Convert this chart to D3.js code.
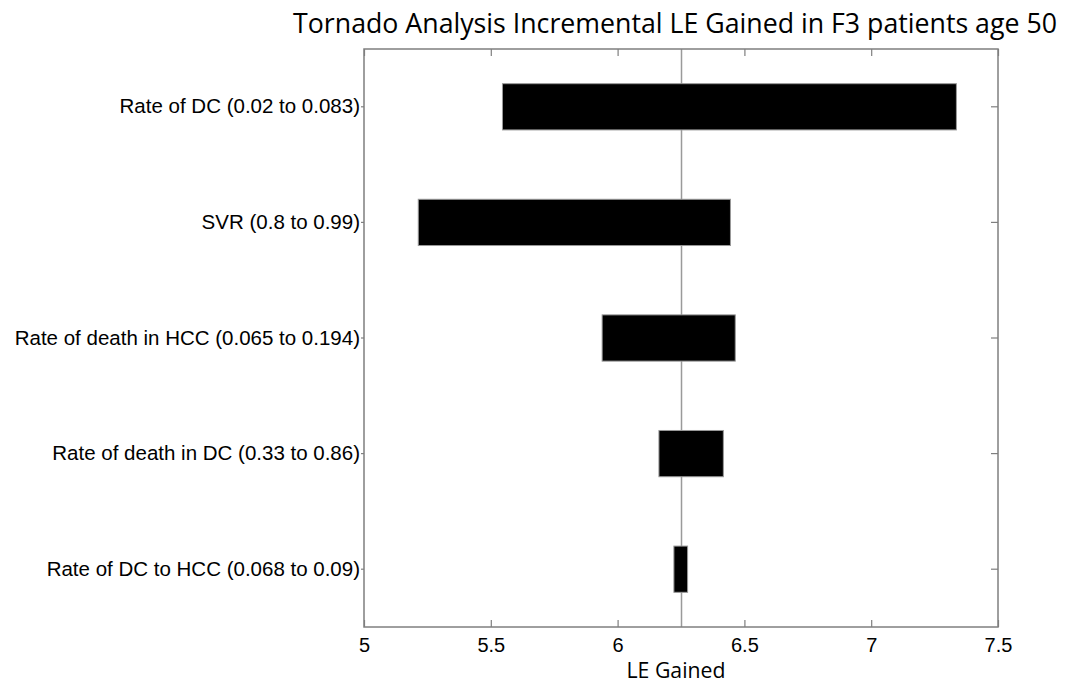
<!DOCTYPE html>
<html>
<head>
<meta charset="UTF-8">
<title>Tornado Analysis</title>
<script src="https://d3js.org/d3.v7.min.js"></script>
<style>
  body { margin: 0; background: #fff; }
</style>
</head>
<body>
<script>
// tornado chart data
var labels = [
  "Rate of DC (0.02 to 0.083)",
  "SVR (0.8 to 0.99)",
  "Rate of death in HCC (0.065 to 0.194)",
  "Rate of death in DC (0.33 to 0.86)",
  "Rate of DC to HCC (0.068 to 0.09)"
];
var lowValues  = [5.546, 5.214, 5.939, 6.163, 6.222];
var highValues = [7.336, 6.445, 6.464, 6.417, 6.276];
var baseValue = 6.252;
var xTicks = [5, 5.5, 6, 6.5, 7, 7.5];

var width = 1078, height = 685;
var plotLeft = 364, plotRight = 998, plotTop = 49, plotBottom = 627;
var axisColor = "#7f7f7f";

var svg = d3.select("body").append("svg")
  .attr("width", width)
  .attr("height", height);

var x = d3.scaleLinear().domain([5, 7.5]).range([plotLeft, plotRight]);
var y = d3.scaleBand().domain(labels).range([plotTop, plotBottom])
  .paddingInner(0.6).paddingOuter(0.3);

// base line
svg.append("line")
  .attr("x1", x(baseValue)).attr("x2", x(baseValue))
  .attr("y1", plotTop).attr("y2", plotBottom)
  .attr("stroke", "#9a9a9a")
  .attr("stroke-width", 1.5);

// bars
svg.selectAll("rect.bar")
  .data(labels)
  .enter()
  .append("rect")
  .attr("class", "bar")
  .attr("x", function (d, i) { return x(lowValues[i]); })
  .attr("width", function (d, i) { return x(highValues[i]) - x(lowValues[i]); })
  .attr("y", function (d) { return y(d); })
  .attr("height", y.bandwidth())
  .attr("fill", "#000")
  .attr("stroke", "#999")
  .attr("stroke-width", 1);

function styleAxis(g) {
  g.select(".domain").remove();
  g.selectAll(".tick line").attr("stroke", axisColor).attr("stroke-width", 1.2);
  g.selectAll(".tick text").attr("fill", "#000")
    .attr("font-family", "'Liberation Sans', Arial, sans-serif");
}

// bottom axis
svg.append("g")
  .attr("transform", "translate(0," + plotBottom + ")")
  .call(d3.axisBottom(x).tickValues(xTicks).tickFormat(d3.format("")).tickSizeInner(-7).tickSizeOuter(0).tickPadding(11))
  .call(styleAxis)
  .selectAll(".tick text").attr("font-size", 20);

// top axis, ticks only
svg.append("g")
  .attr("transform", "translate(0," + plotTop + ")")
  .call(d3.axisTop(x).tickValues(xTicks).tickFormat("").tickSizeInner(-7).tickSizeOuter(0))
  .call(styleAxis);

// left axis with category labels
svg.append("g")
  .attr("transform", "translate(" + plotLeft + ",0)")
  .call(d3.axisLeft(y).tickSizeInner(3).tickSizeOuter(0).tickPadding(1))
  .call(styleAxis)
  .selectAll(".tick text").attr("font-size", 20.5);

// right axis, ticks only
svg.append("g")
  .attr("transform", "translate(" + plotRight + ",0)")
  .call(d3.axisRight(y).tickFormat("").tickSizeInner(-7).tickSizeOuter(0))
  .call(styleAxis);

// frame
svg.append("rect")
  .attr("x", plotLeft).attr("y", plotTop)
  .attr("width", plotRight - plotLeft).attr("height", plotBottom - plotTop)
  .attr("fill", "none")
  .attr("stroke", axisColor)
  .attr("stroke-width", 1.5);

// fit a text element to a given width by scaling its font size
function fitText(t, w) {
  var len = t.node().getComputedTextLength();
  var fs = parseFloat(t.attr("font-size"));
  t.attr("font-size", fs * w / len);
}

var title = svg.append("text")
  .attr("x", 675).attr("y", 33)
  .attr("text-anchor", "middle")
  .attr("font-family", "'Open Sans', sans-serif")
  .attr("font-size", 28)
  .attr("fill", "#000")
  .text("Tornado Analysis Incremental LE Gained in F3 patients age 50");
fitText(title, 764);

var xLabel = svg.append("text")
  .attr("x", 676).attr("y", 678)
  .attr("text-anchor", "middle")
  .attr("font-family", "'Open Sans', sans-serif")
  .attr("font-size", 22)
  .attr("fill", "#000")
  .text("LE Gained");
fitText(xLabel, 99);
</script>
</body>
</html>
